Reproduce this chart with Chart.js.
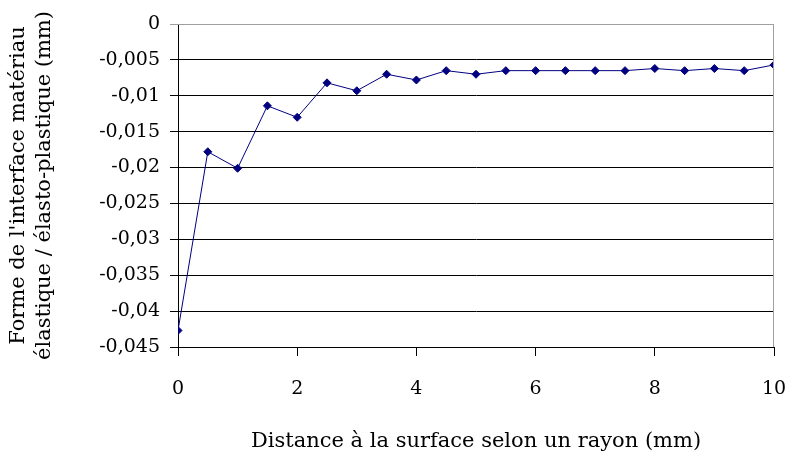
<!DOCTYPE html>
<html lang="fr">
<head>
<meta charset="UTF-8">
<script src="https://cdn.jsdelivr.net/npm/chart.js"></script>
<style>
  html, body { margin: 0; padding: 0; background: #fff; }
  #wrap { width: 788px; height: 459px; }
</style>
</head>
<body>
<div id="wrap"><canvas id="myChart"></canvas></div>
<script>
// distance (mm) et forme de l'interface (mm)
var distances = [0, 0.5, 1, 1.5, 2, 2.5, 3, 3.5, 4, 4.5, 5, 5.5, 6, 6.5, 7, 7.5, 8, 8.5, 9, 9.5, 10];
var forme = [-0.0427, -0.0178, -0.0201, -0.0114, -0.0130, -0.0082, -0.0093, -0.0070, -0.0078, -0.0065, -0.0070,
             -0.0065, -0.0065, -0.0065, -0.0065, -0.0065, -0.0062, -0.0065, -0.0062, -0.0065, -0.0057];
var xTitle = 'Distance à la surface selon un rayon (mm)';
var yTitle = ["Forme de l'interface matériau", 'élastique / élasto-plastique (mm)'];

var points = [];
for (var i = 0; i < distances.length; i++) {
    points.push({ x: distances[i], y: forme[i] });
}

var font = 'DejaVu Serif';

var frame = {
    id: 'frame',
    afterDatasetsDraw: function (chart) {
        var a = chart.chartArea;
        var c = chart.ctx;
        c.save();
        c.strokeStyle = '#a0a0a0';
        c.lineWidth = 1;
        c.beginPath();
        c.moveTo(a.left, a.top + 0.5);
        c.lineTo(a.right - 0.5, a.top + 0.5);
        c.lineTo(a.right - 0.5, a.bottom);
        c.stroke();
        c.restore();
    }
};

var ctx = document.getElementById('myChart').getContext('2d');
var myChart = new Chart(ctx, {
    type: 'scatter',
    data: {
        datasets: [{
            data: points,
            showLine: true,
            borderColor: '#000080',
            backgroundColor: '#000080',
            borderWidth: 1,
            pointStyle: 'rectRot',
            pointRadius: 4,
            pointHoverRadius: 4
        }]
    },
    options: {
        responsive: true,
        maintainAspectRatio: false,
        animation: false,
        layout: { padding: { top: 24, right: 0, left: 0, bottom: 0 } },
        plugins: { legend: { display: false }, tooltip: { enabled: false } },
        scales: {
            x: {
                type: 'linear',
                min: 0,
                max: 10,
                ticks: { stepSize: 2, color: '#000', font: { family: font, size: 19 }, padding: 22, maxRotation: 0 },
                grid: { drawOnChartArea: false, tickLength: 9, color: '#000' },
                border: { color: '#000', width: 1 },
                title: { display: true, text: xTitle, color: '#000', font: { family: font, size: 21 }, padding: { top: 0, bottom: 5 } },
                afterFit: function (scale) { scale.height = 112; scale.paddingRight = 14; }
            },
            y: {
                min: -0.045,
                max: 0,
                ticks: {
                    stepSize: 0.005, color: '#000', font: { family: font, size: 19 }, padding: 10,
                    callback: function (v) { return String(+v.toFixed(3)).replace('.', ','); }
                },
                grid: {
                    tickLength: 8,
                    color: function (c) { return c.tick && c.tick.value === 0 ? '#a0a0a0' : '#000'; }
                },
                border: { color: '#000', width: 1 },
                title: { display: true, text: yTitle, color: '#000', font: { family: font, size: 21, lineHeight: 1.22 }, padding: { top: 6, bottom: 0 } },
                afterFit: function (scale) { scale.width = 178; }
            }
        }
    },
    plugins: [frame]
});
</script>
</body>
</html>
